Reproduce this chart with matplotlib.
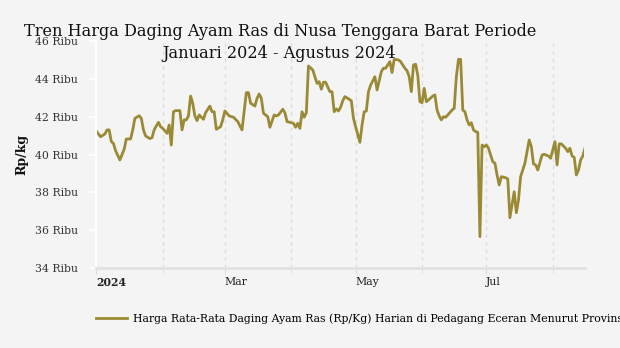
import numpy as np
import pandas as pd
import matplotlib
matplotlib.use("Agg")
import matplotlib.pyplot as plt
import matplotlib.dates as mdates
from matplotlib.transforms import ScaledTranslation

# hari ke-n sejak 1 Januari 2024, harga dalam ribu rupiah
hari = [0, 2, 4, 5, 6, 7, 8, 9, 11, 13, 14, 16, 17, 18, 20, 21, 22, 23, 25, 26,
        27, 28, 29, 30, 31, 33, 34, 35, 36, 37, 39, 40, 41, 42, 43, 44, 45, 46, 47, 48,
        50, 51, 53, 54, 55, 56, 58, 59, 60, 62, 64, 66, 68, 70, 71, 72, 74, 75, 76, 77,
        78, 80, 81, 83, 84, 85, 87, 88, 89, 91, 92, 93, 94, 95, 96, 97, 98, 99, 101, 102,
        103, 104, 105, 106, 107, 109, 110, 111, 112, 113, 114, 115, 116, 118, 119, 120, 121, 123, 124, 125,
        126, 127, 128, 130, 131, 133, 134, 135, 136, 137, 138, 139, 141, 142, 144, 145, 146, 147, 148, 149,
        150, 151, 152, 153, 154, 155, 157, 158, 159, 160, 161, 162, 163, 164, 166, 167, 168, 169, 170, 171,
        172, 173, 174, 175, 176, 177, 178, 179, 180, 181, 182, 183, 185, 186, 187, 188, 189, 191, 192, 193,
        195, 196, 197, 198, 200, 202, 203, 204, 205, 206, 207, 208, 209, 211, 212, 214, 215, 216, 217, 219,
        220, 221, 222, 223, 224, 225, 226, 227, 228]
harga = [41.24, 40.94, 41.08, 41.30, 41.30, 40.68, 40.59, 40.20, 39.71, 40.28, 40.82, 40.82, 41.30, 41.91, 42.05, 41.91, 41.30, 40.98, 40.84, 40.89,
         41.30, 41.51, 41.70, 41.47, 41.38, 41.12, 41.56, 40.50, 42.26, 42.32, 42.32, 41.30, 41.83, 41.83, 42.04, 43.09, 42.71, 42.04, 41.79, 42.09,
         41.86, 42.21, 42.56, 42.26, 42.26, 41.33, 41.47, 41.83, 42.30, 42.04, 41.97, 41.74, 41.30, 43.27, 43.27, 42.71, 42.56, 42.97, 43.20, 42.97,
         42.18, 42.00, 41.44, 42.09, 42.04, 42.09, 42.39, 42.21, 41.74, 41.68, 41.65, 41.44, 41.65, 41.38, 42.26, 41.97, 42.21, 44.68, 44.47, 44.11,
         43.76, 43.85, 43.45, 43.82, 43.82, 43.32, 43.32, 42.26, 42.41, 42.30, 42.50, 42.84, 43.06, 42.92, 42.84, 41.91, 41.47, 40.64, 41.56, 42.26,
         42.30, 43.32, 43.67, 44.11, 43.41, 44.38, 44.56, 44.56, 44.73, 44.91, 44.33, 45.03, 45.00, 44.91, 44.56, 44.43, 44.11, 43.32, 44.73, 44.77,
         44.20, 42.79, 42.74, 43.50, 42.79, 42.88, 43.09, 43.15, 42.35, 42.04, 41.83, 42.00, 41.97, 42.09, 42.35, 42.44, 44.11, 45.03, 45.03, 42.35,
         42.26, 41.83, 41.56, 41.68, 41.30, 41.21, 41.17, 35.66, 40.50, 40.41, 40.50, 40.33, 39.62, 39.54, 38.92, 38.39, 38.83, 38.77, 38.71, 36.66,
         38.03, 36.92, 37.60, 38.83, 39.54, 40.77, 40.41, 39.50, 39.45, 39.18, 39.57, 39.97, 40.01, 39.92, 39.80, 40.68, 39.45, 40.56, 40.56, 40.33,
         40.15, 40.33, 39.92, 39.85, 38.92, 39.18, 39.71, 39.92, 40.33]

judul_1 = "Tren Harga Daging Ayam Ras di Nusa Tenggara Barat Periode"
judul_2 = "Januari 2024 - Agustus 2024"
nama_seri = "Harga Rata-Rata Daging Ayam Ras (Rp/Kg) Harian di Pedagang Eceran Menurut Provinsi"
label_bulan = ["2024", "Mar", "May", "Jul"]
yticks = [34, 36, 38, 40, 42, 44, 46]

bg = "#f4f4f4"
warna = "#9b8a35"
plt.rcParams["font.family"] = ["DejaVu Serif"]

tanggal = pd.Timestamp("2024-01-01") + pd.to_timedelta(hari, unit="D")

fig = plt.figure(figsize=(6.2, 3.48), dpi=100, facecolor=bg)
ax = fig.add_axes([96.3 / 620, 1 - 268 / 348, (584.5 - 96.3) / 620, 227 / 348])
ax.set_facecolor(bg)

ax.plot(tanggal, harga, color=warna, lw=2, solid_joinstyle="round",
        label=nama_seri)

ax.set_ylim(34, 46)
ax.set_xlim(pd.Timestamp("2024-01-01"), pd.Timestamp("2024-01-01") + pd.Timedelta(days=227.8))
ax.set_yticks(yticks)
ax.set_yticklabels([f"{v} Ribu" for v in yticks], fontsize=7.8, color="#333333")

mayor = [pd.Timestamp(d) for d in ["2024-01-01", "2024-03-01", "2024-05-01", "2024-07-01"]]
minor = [pd.Timestamp(d) for d in ["2024-02-01", "2024-04-01", "2024-06-01", "2024-08-01"]]
ax.set_xticks(mayor)
ax.set_xticklabels(label_bulan, fontsize=7.8, color="#222222", ha="left")
ax.set_xticks(minor, minor=True)
ax.get_xticklabels()[0].set_fontweight("bold")
geser = ScaledTranslation(3 / 100, 0, fig.dpi_scale_trans)
for t in ax.get_xticklabels():
    t.set_transform(t.get_transform() + geser)

ax.grid(axis="x", which="both", color="#dcdcdc", ls=(0, (2.5, 3)), lw=1)
ax.tick_params(axis="x", which="both", length=4, color="#dddddd", pad=2.5)
ax.tick_params(axis="y", length=5, color="white", width=1.2, pad=8)

for s in ["top", "right"]:
    ax.spines[s].set_visible(False)
ax.spines["left"].set_color("white")
ax.spines["left"].set_linewidth(1.5)
ax.spines["bottom"].set_color("#e2e2e2")
ax.spines["bottom"].set_linewidth(2)

ax.set_ylabel("Rp/kg", fontsize=9, fontweight="bold", color="#111111")
ax.yaxis.set_label_coords(-0.14, 0.5)

fig.text(280 / 620, 1 - 31 / 348, judul_1, ha="center", va="center", fontsize=11.6, color="#111111")
fig.text(279 / 620, 1 - 54 / 348, judul_2, ha="center", va="center", fontsize=11.6, color="#111111")

fig.legend(loc="center left", bbox_to_anchor=(96 / 620, 1 - 319 / 348), frameon=False,
           fontsize=7.8, handlelength=2.9, handletextpad=0.5, borderpad=0, borderaxespad=0)

fig.savefig("out.png", dpi=100, facecolor=bg)
